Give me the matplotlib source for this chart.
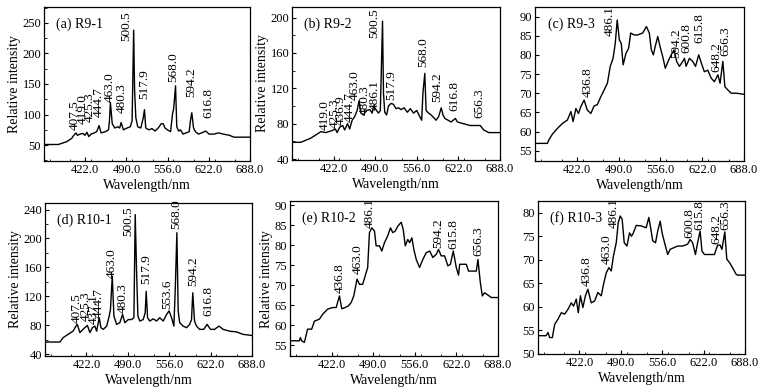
import matplotlib
matplotlib.use("Agg")
import matplotlib.pyplot as plt
from matplotlib.ticker import FixedLocator, MultipleLocator

plt.rcParams.update({
    "font.family": ["Liberation Serif", "DejaVu Serif"],
    "font.size": 9,
    "axes.linewidth": 0.9,
    "xtick.direction": "in",
    "ytick.direction": "in",
    "xtick.major.size": 3,
    "ytick.major.size": 3,
    "xtick.minor.size": 1.8,
    "ytick.minor.size": 1.8,
})

# ---------------------------------------------------------------------------
# Data (wavelength nm, relative intensity)
# ---------------------------------------------------------------------------
wl_a = [356, 379, 392.5, 400.6, 404, 407.5, 410, 414, 419, 422, 425.3, 428, 432, 437,
        441, 444.7, 448, 455, 460, 461.5, 463, 466, 470, 475, 478, 480.3, 484, 490, 495,
        498, 500.5, 502, 504, 507, 512, 516, 517.9, 520, 525, 530, 535, 540, 545, 548,
        551, 555, 560, 563, 565, 568, 570, 573, 576, 580, 585, 590, 592, 594.2, 597,
        600, 605, 610, 616.8, 622, 630, 637, 645, 655, 662, 670, 688]
int_a = [51, 51, 55.5, 61, 66, 70, 66, 68, 69, 66, 71, 64, 68, 70,
         72, 82, 70, 72, 75, 90, 120, 85, 78, 80, 78, 87, 75, 78, 80,
         90, 238, 140, 95, 80, 78, 95, 108, 78, 75, 77, 73, 78, 85, 85,
         78, 75, 72, 100, 110, 147, 80, 73, 75, 68, 70, 72, 90, 103, 78,
         72, 68, 70, 73, 68, 68, 70, 68, 66, 63, 63, 63]

wl_b = [356, 370, 386, 402, 410, 419, 425.3, 428, 432, 436.9, 440, 444.7, 448, 452,
        456, 460, 463, 466, 470, 475, 480.3, 484, 486.1, 490, 494, 497, 500.5, 502,
        504, 507, 510, 514, 517.9, 522, 526, 530, 535, 540, 545, 550, 555, 560, 563,
        565, 568, 570, 574, 578, 582, 586, 590, 594.2, 597, 600, 605, 610, 616.8, 620,
        630, 640, 648, 656.3, 662, 670, 688]
int_b = [59, 59, 63.7, 71, 70, 72, 74, 70, 76, 78, 73, 80, 74, 84,
         88, 95, 106, 92, 90, 95, 96, 92, 100, 96, 92, 95, 196, 115,
         93, 90, 100, 103, 102, 97, 98, 96, 98, 93, 97, 92, 95, 88, 84,
         115, 137, 95, 92, 90, 87, 84, 88, 98, 90, 86, 84, 82, 86, 82,
         80, 78, 78, 78, 73, 70, 70]

wl_c = [356, 375.7, 378, 383.6, 391.6, 399.5, 407.5, 413, 416.5, 421, 425, 428.8,
        434, 439, 444.7, 450, 455, 460.6, 466, 471, 475.5, 480, 483.5, 486.6, 490,
        493, 496, 500.5, 504.7, 508, 513.7, 519, 527, 533, 537.6, 540.8, 544, 547,
        551, 554.6, 558.8, 563, 568.4, 573.7, 577, 581, 585.4, 590.7, 593.4, 596,
        601.3, 606.6, 611, 616, 620.4, 625, 630.5, 636, 641, 646.5, 650, 654.4,
        657.6, 662, 667.7, 675.7, 688]
int_c = [56.9, 56.9, 57.8, 59.3, 60.8, 62.1, 63, 65.2, 62.6, 66, 64.7, 66.5,
         68.2, 65.6, 64.7, 66.7, 67, 69.1, 70.9, 72.6, 77, 79.1, 83, 89.1, 83.9,
         83, 77.4, 80.4, 81.7, 85.7, 85.2, 85.2, 85.7, 87.4, 85.7, 81.3, 80, 82.2,
         84.8, 82.2, 79.6, 76.5, 78.7, 80.4, 81.3, 78.3, 77, 78.3, 79.1, 77,
         79.1, 78.3, 77, 80, 77.8, 75.6, 76, 73.9, 73, 74.8, 72.6, 78.3,
         71.7, 70.9, 70, 70, 69.7]

wl_d = [356, 380, 385, 393, 401, 405.7, 407.8, 412, 417, 424, 428, 432, 436, 438.8,
        443, 445.7, 449.5, 455, 459, 461, 463.9, 466.5, 470.8, 476, 480.4, 484,
        489.5, 494.8, 498.6, 500.7, 502.8, 505, 508, 513.5, 516.7, 518.3, 520.5,
        524, 529.5, 535, 540, 545.6, 551, 555, 559, 562.7, 565, 567.5, 569.6, 572,
        577.6, 583, 588, 591, 593, 595.8, 599, 604, 610.7, 616, 621.4, 628, 635,
        641.7, 652, 663, 673.7, 688]
int_d = [57, 57, 63, 67.6, 72, 79, 81.4, 70, 74.5, 80, 70, 76.8, 79, 72,
         90.6, 76.8, 74.5, 79, 93, 102, 148, 93, 81.4, 83.7, 95, 83.7,
         88, 88, 90.6, 233, 157, 93, 86, 88, 97.5, 127, 90.6,
         86, 89, 86, 90.6, 86, 95, 100, 90.6, 79, 132, 208, 100, 83.7,
         79, 76.8, 81.4, 88, 125, 86, 79, 74.5, 74.5, 81.4, 74.5, 74.5, 79,
         74.5, 72, 71, 67.6, 66]

wl_e = [356, 371, 372.5, 374.6, 379, 384, 390.6, 395, 403, 408, 416, 424, 429.6,
        435, 438.6, 444, 449, 453.5, 457.8, 463, 466.9, 472, 476, 480, 482.8, 486.6,
        490.8, 493.5, 498.8, 502.6, 506.8, 512, 516.4, 520, 524, 528, 533.5, 536.7,
        540, 544, 547, 550.5, 553.7, 557.5, 562.8, 568, 573.5, 579, 584, 589.5, 593,
        597.4, 602.8, 608, 612, 616.6, 621.4, 625, 626.8, 637.4, 641, 648, 653.4,
        656, 659.8, 663, 666.7, 672, 677.4, 688]
int_e = [56.1, 56.1, 56.9, 56.1, 55.7, 59, 59, 61, 61.5, 62.7, 64, 64.4, 64.4,
         67.3, 64.1, 64.4, 64.8, 65.6, 67.3, 71.5, 70.2, 70.2, 72.3, 74.4, 83.1, 84.3,
         83.5, 79.8, 79.8, 78.5, 80.6, 82.3, 84.3, 83.1, 83.5, 84.7, 85.7, 83.9,
         79.8, 81.4, 80.6, 81.8, 78.9, 76.4, 74.4, 76.4, 78.1, 78.5, 76.9, 77.7, 78.9,
         77.3, 77.3, 74.8, 75.2, 78.5, 74.4, 72.5, 75.2, 75.2, 73.5, 73.5, 73.5,
         76.4, 70.6, 67.3, 68.1, 67.5, 66.9, 66.9]

wl_f = [356, 369, 372, 374.7, 379, 382.7, 388, 393.4, 398.7, 404, 409.4, 413, 417.4,
        420.6, 424, 428, 432, 436, 441.4, 446.8, 452, 457.5, 461, 465.5, 469.7, 473.5,
        477, 481.5, 484.7, 487.9, 491, 494.3, 498.6, 502.8, 506, 509, 513.5, 521.5,
        529.5, 533.8, 537, 540, 544.5, 548, 552, 555, 559, 564, 568, 573, 580, 588,
        596, 600, 604, 608.5, 612, 616, 619, 623, 628, 639, 644, 648, 651, 655.6,
        658.8, 663, 668, 673.7, 676, 688]
int_f = [53.8, 53.8, 54.5, 53.4, 53.4, 56.2, 57.3, 58.7, 58.4, 59.4, 60.8, 60.1, 61.6,
         58.7, 62.3, 59.8, 62.3, 63.7, 60.8, 61.2, 63, 62.3, 64.7, 67.2, 68.3, 67.6,
         70.8, 73.6, 77.9, 79.3, 78.6, 73.6, 72.9, 75.7, 75, 75.7, 77.3, 77.2,
         76.8, 79, 76.5, 74, 73.6, 76.1, 78.2, 75.7, 73.6, 71.1, 72.2, 72.5, 72.9, 72.9,
         73.3, 74.3, 73.6, 71.1, 73.6, 76.1, 71.8, 71.1, 71.1, 71.1, 73.1, 73.1, 72.2, 75.9,
         70.1, 69.4, 68.3, 66.9, 66.7, 66.7]

# peak labels: (text, x, y of label bottom)
peaks_a = [("407.5", 406, 74.5), ("419.0", 419, 84), ("425.3", 430, 88),
           ("444.7", 445, 96), ("463.0", 462, 121), ("480.3", 481, 102),
           ("500.5", 489, 221), ("517.9", 517, 126), ("568.0", 565, 154),
           ("594.2", 594, 129), ("616.8", 621, 93.6)]
peaks_b = [("419.0", 409, 73), ("425.3", 423.6, 75), ("436.9", 434, 78.8),
           ("444.7", 447.5, 82.5), ("463.0", 455.5, 107), ("480.3", 471.4, 90),
           ("486.1", 487.4, 95.7), ("500.5", 487.4, 176.7), ("517.9", 514, 107),
           ("568.0", 565.6, 144.7), ("594.2", 588.5, 105), ("616.8", 615, 94),
           ("656.3", 655, 86)]
peaks_c = [("436.8", 439.4, 69.1), ("486.1", 474, 84.8), ("594.2", 580, 79.1),
           ("600.8", 596, 80.4), ("615.8", 617, 83), ("648.2", 644, 75.6),
           ("656.3", 658.7, 79.6)]
peaks_d = [("407.5", 406.7, 83.7), ("425.3", 421.7, 86), ("437.1", 433.4, 81.4),
           ("444.7", 443, 90.6), ("463.0", 463.3, 145.8), ("480.3", 480.4, 97.5),
           ("500.5", 489.5, 203), ("517.9", 519, 136.6), ("553.6", 552.5, 102),
           ("568.0", 567, 212.5), ("594.2", 593.6, 134), ("616.8", 617.7, 93)]
peaks_e = [("436.8", 435, 68.1), ("463.0", 464, 72.7), ("486.1", 482.9, 84.3),
           ("594.2", 592, 79.3), ("615.8", 616, 78.9), ("656.3", 656, 77.3)]
peaks_f = [("436.8", 434.5, 64.4), ("463.0", 465.5, 69), ("486.1", 477.8, 76.8),
           ("600.8", 599, 74.7), ("615.8", 615, 76.4), ("648.2", 641.7, 73.3),
           ("656.3", 656.6, 76.4)]

titles = ["(a) R9-1", "(b) R9-2", "(c) R9-3", "(d) R10-1", "(e) R10-2", "(f) R10-3"]
xtick_vals = [356, 422.4, 488.8, 555.2, 621.6, 688]
xtick_labels = ["", "422.0", "490.0", "556.0", "622.0", "688.0"]

# ---------------------------------------------------------------------------
W, H = 777, 392
# axes boxes in pixels: left, right, top, bottom
boxes = [(44, 250, 7, 161), (292, 500, 7, 160), (535, 744, 7, 161),
         (45, 252, 203, 356), (290, 498, 201, 356), (538, 745, 201, 354)]
ylims = [(24, 276), (39, 212), (52.3, 92.5), (37.7, 249), (52.3, 91), (49.9, 82.5)]
ysteps = [(50, 25), (40, 20), (5, None), (40, 20), (5, None), (5, None)]
ylabel_on = [True, True, False, True, True, False]

series = [(wl_a, int_a, peaks_a), (wl_b, int_b, peaks_b), (wl_c, int_c, peaks_c),
          (wl_d, int_d, peaks_d), (wl_e, int_e, peaks_e), (wl_f, int_f, peaks_f)]

fig = plt.figure(figsize=(W / 100, H / 100), dpi=100)

for i, (wl, inten, peaks) in enumerate(series):
    l, r, t, b = boxes[i]
    ax = fig.add_axes([l / W, (H - b) / H, (r - l) / W, (b - t) / H])
    ax.plot(wl, inten, color="black", lw=1.0)
    for txt, x, y in peaks:
        ax.text(x, y, txt, rotation=90, ha="center", va="bottom", fontsize=9.5)
    ax.set_xlim(356, 688)
    ax.set_ylim(*ylims[i])
    ax.xaxis.set_major_locator(FixedLocator(xtick_vals))
    ax.set_xticklabels(xtick_labels)
    ax.xaxis.set_minor_locator(MultipleLocator(33.2))
    major, minor = ysteps[i]
    ax.yaxis.set_major_locator(MultipleLocator(major))
    if minor:
        ax.yaxis.set_minor_locator(MultipleLocator(minor))
    ax.tick_params(which="both", top=False, right=False, labelsize=9, pad=2)
    ax.set_xlabel("Wavelength/nm", fontsize=10, labelpad=2)
    if ylabel_on[i]:
        ax.set_ylabel("Relative intensity", fontsize=10, labelpad=1)
    ax.text(0.06, 0.89, titles[i], transform=ax.transAxes, ha="left", va="center",
            fontsize=10)

fig.savefig("out.png", dpi=100)
